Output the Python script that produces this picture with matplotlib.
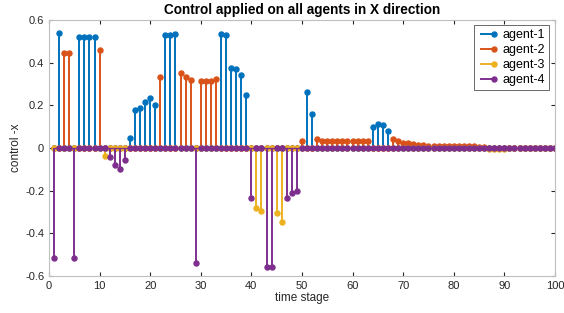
import matplotlib.pyplot as plt
from matplotlib.lines import Line2D
from matplotlib.legend_handler import HandlerLine2D
import numpy as np

plt.rcParams['font.family'] = ['Liberation Sans', 'DejaVu Sans']

steps = list(range(1, 101))

# control values per time stage (1..100), one list per agent
agent1 = [0, 0.54, 0, 0, 0, 0.52, 0.52, 0.52, 0.52, 0,
          0, 0, 0, 0, 0, 0.048, 0.178, 0.186, 0.214, 0.235,
          0.202, 0, 0.53, 0.53, 0.534, 0, 0, 0, 0, 0,
          0, 0, 0, 0.533, 0.53, 0.377, 0.372, 0.341, 0.249, 0,
          0, 0, 0, 0, 0, 0, 0, 0, 0, 0,
          0.263, 0.158, 0, 0, 0, 0, 0, 0, 0, 0,
          0, 0, 0, 0.097, 0.111, 0.106, 0.078, 0, 0, 0,
          0, 0, 0, 0, 0, 0, 0, 0, 0, 0,
          0, 0, 0, 0, 0, 0, 0, 0, 0, 0,
          0, 0, 0, 0, 0, 0, 0, 0, 0, 0]
agent2 = [0, 0, 0.445, 0.445, 0, 0, 0, 0, 0, 0.46,
          0, 0, 0, 0, 0, 0, 0, 0, 0, 0,
          0, 0.332, 0, 0, 0, 0.354, 0.333, 0.321, 0, 0.313,
          0.315, 0.315, 0.322, 0, 0, 0, 0, 0, 0, 0,
          0, 0, 0, 0, 0, 0, 0, 0, 0, 0.034,
          0, 0, 0.042, 0.035, 0.033, 0.032, 0.031, 0.031, 0.032, 0.032,
          0.033, 0.034, 0.035, 0, 0, 0, 0, 0.041, 0.034, 0.023,
          0.023, 0.017, 0.015, 0.012, 0.011, 0.01, 0.009, 0.009, 0.01, 0.01,
          0.01, 0.009, 0.008, 0.008, 0.007, 0.005, 0, 0, 0, 0,
          0, 0, 0, 0, 0, 0, 0, 0, 0, 0]
agent3 = [0, 0, 0, 0, 0, 0, 0, 0, 0, 0,
          -0.036, 0, 0, 0, 0, 0, 0, 0, 0, 0,
          0, 0, 0, 0, 0, 0, 0, 0, 0, 0,
          0, 0, 0, 0, 0, 0, 0, 0, 0, 0,
          -0.283, -0.297, 0, 0, -0.304, -0.347, 0, 0, 0, 0,
          0, 0, 0, 0, 0, 0, 0, 0, 0, 0,
          0, 0, 0, 0, 0, 0, 0, 0, 0, 0,
          0, 0, 0, 0, 0, 0, 0, 0, 0, 0,
          0, 0, 0, 0, 0, 0, -0.004, -0.005, -0.005, -0.004,
          0, 0, 0, 0, 0, 0, 0, 0, 0, 0]
agent4 = [-0.515, 0, 0, 0, -0.515, 0, 0, 0, 0, 0,
          0, -0.04, -0.078, -0.097, -0.055, 0, 0, 0, 0, 0,
          0, 0, 0, 0, 0, 0, 0, 0, -0.541, 0,
          0, 0, 0, 0, 0, 0, 0, 0, 0, -0.235,
          0, 0, -0.556, -0.556, 0, 0, -0.233, -0.211, -0.203, 0,
          0, 0, 0, 0, 0, 0, 0, 0, 0, 0,
          0, 0, 0, 0, 0, 0, 0, 0, 0, 0,
          0, 0, 0, 0, 0, 0, 0, 0, 0, 0,
          0, 0, 0, 0, 0, 0, 0, 0, 0, 0,
          0, 0, 0, 0, 0, 0, 0, 0, 0, 0]

agents = [agent1, agent2, agent3, agent4]
labels = ["agent-1", "agent-2", "agent-3", "agent-4"]
colors = ["#0072BD", "#D95319", "#EDB120", "#7E2F8E"]


class StemLegend(HandlerLine2D):
    # matlab-style legend icon: line with the dot only at its right end
    def create_artists(self, legend, orig_handle, xdescent, ydescent, width, height, fontsize, trans):
        arts = super().create_artists(legend, orig_handle, xdescent, ydescent, width, height, fontsize, trans)
        for a in arts:
            n = len(a.get_xdata())
            a.set_markevery([n - 1])
        return arts


fig = plt.figure(figsize=(5.64, 3.13), dpi=100)
ax = fig.add_axes([0.0869, 0.118, 0.897, 0.818])

handles = []
for vals, lab, col in zip(agents, labels, colors):
    ml, sl, bl = ax.stem(steps, vals, linefmt='-', markerfmt='o', basefmt='-')
    plt.setp(sl, color=col, linewidth=1.4)
    plt.setp(ml, color=col, markersize=3.6)
    plt.setp(bl, color=col, linewidth=1.0)
    handles.append(Line2D([0, 1], [0, 0], color=col, linewidth=1.4, marker='o',
                          markersize=3.6, label=lab))

ax.set_xlim(0, 100)
ax.set_ylim(-0.6, 0.6)
ax.set_xticks(np.arange(0, 101, 10))
ax.set_yticks(np.arange(-0.6, 0.61, 0.2))
ax.set_yticklabels(["-0.6", "-0.4", "-0.2", "0", "0.2", "0.4", "0.6"])
ax.tick_params(direction='in', length=3, labelsize=8, colors='#262626', top=True, right=True,
               labeltop=False, labelright=False)
for sp in ax.spines.values():
    sp.set_color('#bfbfbf')
    sp.set_linewidth(0.8)

ax.set_title("Control applied on all agents in X direction", fontsize=9.8, fontweight='bold', pad=4)
ax.set_xlabel("time stage", fontsize=8.5, labelpad=1, color='#262626')
ax.set_ylabel("control -x", fontsize=8.5, labelpad=2, color='#262626')

leg = ax.legend(handles=handles, loc='upper right', bbox_to_anchor=(0.988, 0.98), fontsize=9,
                frameon=True, fancybox=False, borderpad=0.3, labelspacing=0.25,
                handlelength=1.6, handletextpad=0.4, borderaxespad=0, numpoints=2,
                handler_map={Line2D: StemLegend()})
leg.get_frame().set_edgecolor('#262626')
leg.get_frame().set_linewidth(0.6)

fig.savefig("out.png", dpi=100)
